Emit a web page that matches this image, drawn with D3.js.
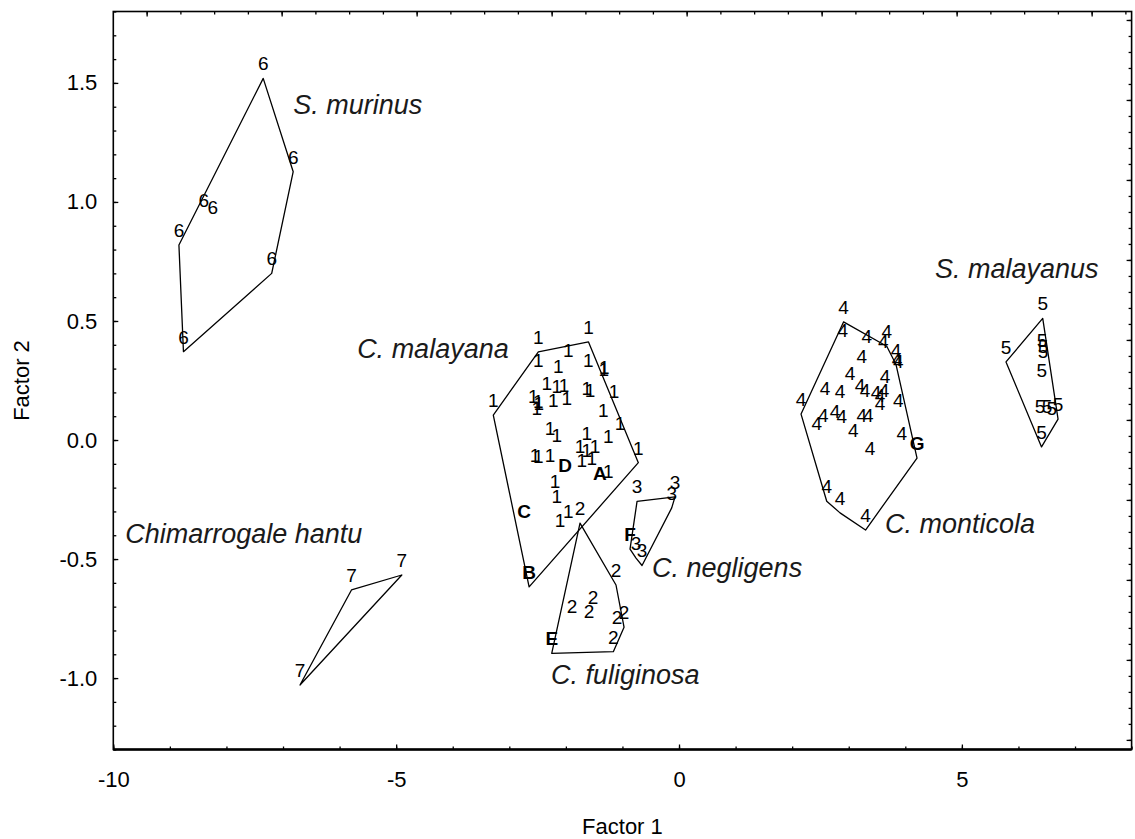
<!DOCTYPE html>
<html>
<head>
<meta charset="utf-8">
<script src="https://cdn.jsdelivr.net/npm/d3@7"></script>
<style>
  html, body { margin: 0; padding: 0; background: #fff; }
  svg { display: block; }
  text { font-family: "Liberation Sans", Arial, sans-serif; }
</style>
</head>
<body>
<svg id="chart" width="1135" height="839"></svg>
<script>
// ---------------- DATA ----------------
const groupIds = ["1", "2", "3", "4", "5", "6", "7"];

const group1 = [
  [-1.60, 0.412], [-2.487, 0.370], [-1.957, 0.317], [-2.487, 0.275], [-2.134, 0.247],
  [-1.604, 0.275], [-1.320, 0.242], [-1.330, 0.236], [-1.149, 0.143], [-2.339, 0.177],
  [-2.162, 0.163], [-2.033, 0.170], [-1.632, 0.156], [-1.573, 0.149], [-2.576, 0.121],
  [-2.487, 0.100], [-2.480, 0.094], [-2.515, 0.072], [-2.222, 0.107], [-1.985, 0.114],
  [-1.338, 0.065], [-1.043, 0.009], [-2.280, -0.012], [-2.162, -0.040], [-1.632, -0.033],
  [-1.250, -0.047], [-0.719, -0.095], [-2.546, -0.124], [-2.487, -0.131], [-2.280, -0.124],
  [-1.750, -0.089], [-1.632, -0.103], [-1.485, -0.089], [-1.720, -0.145], [-1.543, -0.138],
  [-1.250, -0.194], [-2.192, -0.236], [-2.162, -0.299], [-1.957, -0.362], [-2.104, -0.397],
  [-3.283, 0.105]
];
const group2 = [
  [-1.750, -0.349], [-1.114, -0.609], [-1.891, -0.762], [-1.591, -0.783], [-1.520, -0.722],
  [-1.096, -0.807], [-0.972, -0.786], [-1.161, -0.889]
];
const group3 = [
  [-0.742, -0.258], [-0.071, -0.239], [-0.129, -0.285], [-0.654, -0.527], [-0.760, -0.496]
];
const group4 = [
  [2.908, 0.496], [2.894, 0.401], [3.318, 0.373], [3.672, 0.394], [3.612, 0.352],
  [3.836, 0.317], [3.877, 0.268], [3.854, 0.277], [3.230, 0.289], [3.023, 0.219],
  [3.641, 0.205], [2.581, 0.156], [2.846, 0.142], [3.200, 0.170], [3.288, 0.149],
  [3.553, 0.128], [3.482, 0.139], [3.624, 0.147], [3.553, 0.093], [3.877, 0.107],
  [2.157, 0.109], [2.551, 0.044], [2.434, 0.009], [2.758, 0.058], [2.876, 0.037],
  [3.081, -0.019], [3.230, 0.044], [3.346, 0.044], [3.937, -0.033], [3.376, -0.096],
  [2.611, -0.257], [2.846, -0.306], [3.297, -0.378]
];
const group5 = [
  [6.429, 0.511], [5.780, 0.328], [6.417, 0.359], [6.435, 0.332], [6.435, 0.311],
  [6.412, 0.233], [6.382, 0.080], [6.505, 0.080], [6.700, 0.088], [6.588, 0.072],
  [6.408, -0.029]
];
const group6 = [
  [-7.35, 1.519], [-6.82, 1.127], [-7.20, 0.700], [-8.76, 0.371], [-8.84, 0.819],
  [-8.40, 0.947], [-8.24, 0.914]
];
const group7 = [
  [-4.90, -0.567], [-5.79, -0.630], [-6.70, -1.029]
];
const groupPoints = [group1, group2, group3, group4, group5, group6, group7];

// specimens (bold letters), belonging to groups
const specimenLabels = ["A", "B", "C", "D", "E", "F", "G"];
const specimenGroup  = ["1", "1", "1", "1", "2", "3", "4"];
const specimenX      = [-1.397, -2.650, -2.740, -2.015, -2.250, -0.866, 4.207];
const specimenY      = [-0.201, -0.617, -0.363, -0.166, -0.896, -0.458, -0.076];

// species names (annotation anchors in data units)
const speciesNames = ["S. murinus", "C. malayana", "Chimarrogale hantu", "S. malayanus",
                      "C. monticola", "C. negligens", "C. fuliginosa"];
const speciesX = [-6.82, -5.69, -9.79, 4.525, 3.64, -0.477, -2.263];
const speciesY = [1.369, 0.344, -0.433, 0.680, -0.391, -0.575, -1.025];

const xTicks = [-10, -5, 0, 5];
const xTickLabels = ["-10", "-5", "0", "5"];
const yTicks = [-1.0, -0.5, 0.0, 0.5, 1.0, 1.5];
const yTickLabels = ["-1.0", "-0.5", "0.0", "0.5", "1.0", "1.5"];
const xMinorTicks = d3.range(-10, 8.01, 1);
const yMinorTicks = d3.range(-13, 18.01, 1).map(v => v / 10);

const xTitle = "Factor 1";
const yTitle = "Factor 2";

// ---------------- CHART ----------------
const svg = d3.select("#chart");
const L = 113.3, R = 1131.6, T = 11.5, B = 749.5;

const x = d3.scaleLinear().domain([-10, 8]).range([L, R]);
const y = d3.scaleLinear().domain([-1.3, 1.8]).range([B, T]);
// secondary (decorative) scales for the top and right tick marks
const xTop = d3.scaleLinear().domain([-1.247, 6.296]).range([L, R]);
const yRight = d3.scaleLinear().domain([-4.12, 5.106]).range([B, T]);

const tickFont = 22;

function noLabels(ax) { return ax.tickFormat(() => ""); }

// minor ticks
svg.append("g").attr("transform", `translate(0,${B})`)
  .call(noLabels(d3.axisBottom(x).tickValues(xMinorTicks).tickSizeInner(-3).tickSizeOuter(0)));
svg.append("g").attr("transform", `translate(${L},0)`)
  .call(noLabels(d3.axisLeft(y).tickValues(yMinorTicks).tickSizeInner(-3).tickSizeOuter(0)));
svg.append("g").attr("transform", `translate(0,${T})`)
  .call(noLabels(d3.axisTop(xTop).tickValues(d3.range(-1, 6.3, 0.25)).tickSizeInner(-3).tickSizeOuter(0)));
svg.append("g").attr("transform", `translate(0,${T})`)
  .call(noLabels(d3.axisTop(xTop).tickValues(d3.range(-1, 6.3, 1)).tickSizeInner(-5).tickSizeOuter(0)));
svg.append("g").attr("transform", `translate(${R},0)`)
  .call(noLabels(d3.axisRight(yRight).tickValues(d3.range(-4, 5.11, 0.2)).tickSizeInner(-3).tickSizeOuter(0)));
svg.append("g").attr("transform", `translate(${R},0)`)
  .call(noLabels(d3.axisRight(yRight).tickValues(d3.range(-4, 5.11, 1)).tickSizeInner(-5).tickSizeOuter(0)));

// major ticks + labels
svg.append("g").attr("transform", `translate(0,${B})`)
  .call(d3.axisBottom(x).tickValues(xTicks).tickSizeInner(-5).tickSizeOuter(0)
    .tickPadding(22).tickFormat((d, i) => xTickLabels[i]));
svg.append("g").attr("transform", `translate(${L},0)`)
  .call(d3.axisLeft(y).tickValues(yTicks).tickSizeInner(-5).tickSizeOuter(0)
    .tickPadding(16).tickFormat((d, i) => yTickLabels[i]));

svg.selectAll(".domain").remove();
svg.selectAll(".tick line").attr("stroke", "#000").attr("stroke-width", 1.3);
svg.selectAll(".tick text")
  .attr("font-family", '"Liberation Sans", Arial, sans-serif')
  .attr("font-size", tickFont).attr("fill", "#000");

// frame
svg.append("rect").attr("x", L).attr("y", T).attr("width", R - L).attr("height", B - T)
  .attr("fill", "none").attr("stroke", "#000").attr("stroke-width", 1.6);
svg.append("line").attr("x1", L).attr("x2", R).attr("y1", B).attr("y2", B)
  .attr("stroke", "#000").attr("stroke-width", 2.4);

// axis titles
svg.append("text").attr("x", (L + R) / 2).attr("y", 834).attr("text-anchor", "middle")
  .attr("font-size", 22).attr("fill", "#000").text(xTitle);
svg.append("text").attr("transform", `translate(29,${(T + B) / 2}) rotate(-90)`)
  .attr("text-anchor", "middle").attr("font-size", 22).attr("fill", "#000").text(yTitle);

// hulls
const line = d3.line().curve(d3.curveLinearClosed);
groupIds.forEach((g, gi) => {
  const pts = groupPoints[gi].map(p => [x(p[0]), y(p[1])]);
  specimenLabels.forEach((s, si) => {
    if (specimenGroup[si] === g) pts.push([x(specimenX[si]), y(specimenY[si])]);
  });
  const hull = d3.polygonHull(pts);
  svg.append("path").attr("d", line(hull))
    .attr("fill", "none").attr("stroke", "#000").attr("stroke-width", 1.3)
    .attr("stroke-linejoin", "round");
});

// point labels (digits)
const markerFont = 19;
groupIds.forEach((g, gi) => {
  svg.append("g").selectAll("text").data(groupPoints[gi]).join("text")
    .attr("x", d => x(d[0])).attr("y", d => y(d[1]) - 8)
    .attr("text-anchor", "middle").attr("font-size", markerFont).attr("fill", "#000")
    .text(g);
});

// specimen labels (bold letters)
svg.append("g").selectAll("text").data(specimenLabels).join("text")
  .attr("x", (d, i) => x(specimenX[i])).attr("y", (d, i) => y(specimenY[i]) - 8)
  .attr("text-anchor", "middle").attr("font-size", markerFont).attr("font-weight", "bold")
  .attr("fill", "#000").text(d => d);

// species names
svg.append("g").selectAll("text").data(speciesNames).join("text")
  .attr("x", (d, i) => x(speciesX[i])).attr("y", (d, i) => y(speciesY[i]))
  .attr("font-size", 27).attr("font-style", "italic").attr("fill", "#1a1a1a")
  .text(d => d);
</script>
</body>
</html>
